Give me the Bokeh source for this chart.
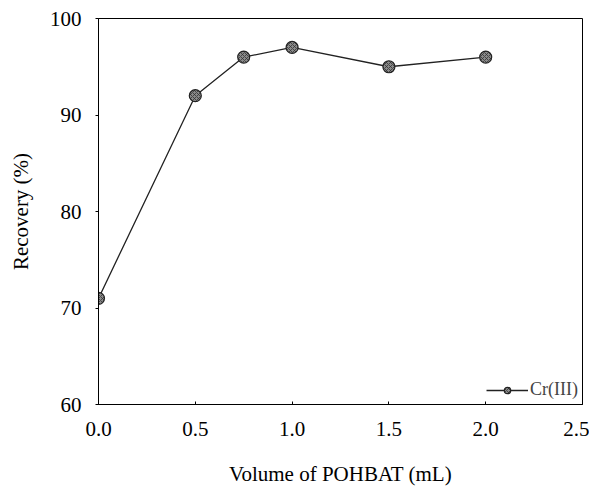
from bokeh.plotting import figure
from bokeh.models import Range1d, FixedTicker, Legend, LegendItem, CustomJSTickFormatter
from bokeh.embed import file_html
from bokeh.resources import INLINE

volume = [0.0, 0.5, 0.75, 1.0, 1.5, 2.0]
recovery = [71, 92, 96, 97, 95, 96]
x_ticks = [0.0, 0.5, 1.0, 1.5, 2.0, 2.5]
y_ticks = [60, 70, 80, 90, 100]
series_name = "Cr(III)"
x_title = "Volume of POHBAT (mL)"
y_title = "Recovery (%)"

FONT = "Liberation Serif"

p = figure(width=589, height=488, output_backend="svg", toolbar_location=None,
           x_range=Range1d(0, 2.5), y_range=Range1d(60, 100),
           min_border_left=98, min_border_right=7, min_border_top=18, min_border_bottom=81)

p.xgrid.visible = False
p.ygrid.visible = False
p.outline_line_color = "black"
p.outline_line_width = 1
p.background_fill_color = "white"
p.border_fill_color = "white"

line = p.line(volume, recovery, line_color="#222222", line_width=1.3)
pts = p.scatter(volume, recovery, size=12, marker="circle", fill_color="#8a8a8a",
                line_color="#222222", line_width=1.2, hatch_pattern="x",
                hatch_color="#333333", hatch_scale=4, hatch_weight=0.8)

p.xaxis.ticker = FixedTicker(ticks=x_ticks)
p.yaxis.ticker = FixedTicker(ticks=y_ticks)
p.xaxis.formatter = CustomJSTickFormatter(code="return tick.toFixed(1);")

for ax in (p.xaxis, p.yaxis):
    ax.axis_line_color = "black"
    ax.major_tick_line_color = "black"
    ax.minor_tick_line_color = None
    ax.major_label_text_font = FONT
    ax.major_label_text_font_size = "21px"
    ax.major_label_text_color = "black"
    ax.axis_label_text_font = FONT
    ax.axis_label_text_font_size = "21px"
    ax.axis_label_text_font_style = "normal"
    ax.axis_label_text_color = "black"

p.xaxis.major_tick_in = 3
p.xaxis.major_tick_out = 0
p.yaxis.major_tick_in = 0
p.yaxis.major_tick_out = 3
p.xaxis.major_label_standoff = 17
p.yaxis.major_label_standoff = 14
p.xaxis.axis_label = x_title
p.yaxis.axis_label = y_title
p.xaxis.axis_label_standoff = 23
p.yaxis.axis_label_standoff = 14

legend = Legend(items=[LegendItem(label=series_name, renderers=[line, pts])],
                location="bottom_right", border_line_color=None,
                background_fill_alpha=0, label_text_font=FONT,
                label_text_font_size="18px", glyph_width=42, glyph_height=16,
                label_standoff=2, margin=4, padding=4)
p.add_layout(legend)

open("out.html", "w").write(file_html(p, INLINE))
